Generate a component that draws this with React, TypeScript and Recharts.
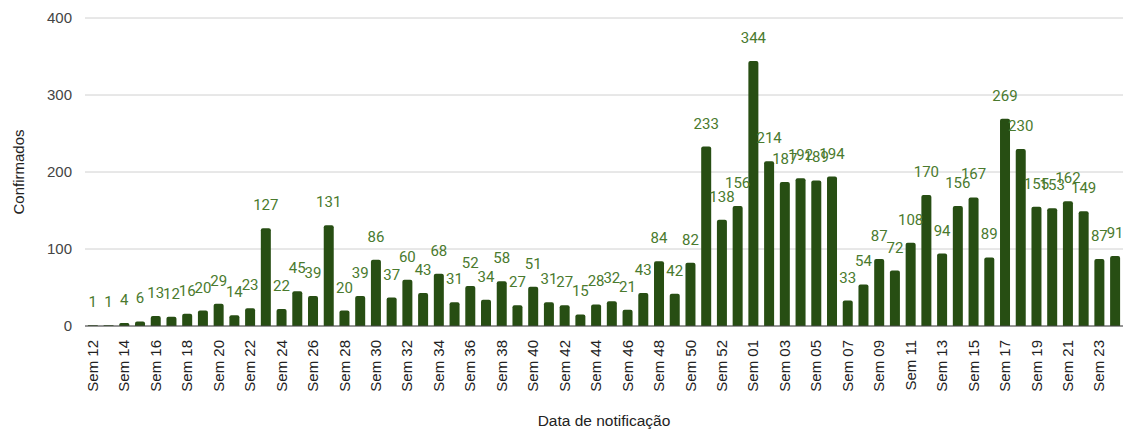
import React from "react";
import { BarChart, Bar, XAxis, YAxis, CartesianGrid, LabelList } from "recharts";

const weeks2020 = [12,13,14,15,16,17,18,19,20,21,22,23,24,25,26,27,28,29,30,31,32,33,34,35,36,37,38,39,40,41,42,43,44,45,46,47,48,49,50,51,52,53];
const weeks2021 = [1,2,3,4,5,6,7,8,9,10,11,12,13,14,15,16,17,18,19,20,21,22,23,24];
const categories = [...weeks2020, ...weeks2021].map((w) => "Sem " + String(w).padStart(2, "0"));
const confirmados = [
  1,1,4,6,13,12,16,20,29,14,23,127,22,45,39,131,20,39,86,37,60,43,68,31,52,34,58,27,51,31,27,15,28,32,21,43,84,42,82,233,138,156,
  344,214,187,192,189,194,33,54,87,72,108,170,94,156,167,89,269,230,155,153,162,149,87,91,
];
const yTicks = [0, 100, 200, 300, 400];

const data = categories.map((c, i) => ({ name: c, value: confirmados[i] }));

const AX_FONT = "Liberation Sans, Arial, sans-serif";

const XTick = (props: any) => {
  const { x, y, payload } = props;
  return (
    <text
      x={x}
      y={y}
      transform={`rotate(-90, ${x}, ${y})`}
      dx={-6}
      dy={5}
      textAnchor="end"
      fontSize={15}
      fontFamily={AX_FONT}
      fill="#222"
    >
      {payload.value}
    </text>
  );
};

const YTitle = (props: any) => {
  const vb = props.viewBox || {};
  const cx = 18;
  const cy = (vb.y ?? 18) + (vb.height ?? 308) / 2;
  return (
    <text
      x={cx}
      y={cy}
      transform={`rotate(-90, ${cx}, ${cy})`}
      textAnchor="middle"
      dominantBaseline="central"
      fontSize={15}
      fontFamily={AX_FONT}
      fill="#222"
    >
      Confirmados
    </text>
  );
};

export default function App() {
  return (
    <div style={{ position: "absolute", left: 0, top: 0, width: 1126, height: 430, background: "#fff" }}>
      <BarChart
        width={1126}
        height={430}
        data={data}
        margin={{ top: 18, right: 3, left: 0, bottom: 0 }}
        barCategoryGap="18%"
      >
        <CartesianGrid vertical={false} stroke="#d0d0d0" />
        <XAxis
          dataKey="name"
          interval={1}
          tick={<XTick />}
          tickLine={false}
          axisLine={{ stroke: "#444" }}
          height={104}
          label={{
            value: "Data de notificação",
            position: "insideBottom",
            offset: 4,
            style: { fontSize: 15.5, fontFamily: AX_FONT, fill: "#222" },
          }}
        />
        <YAxis
          domain={[0, 400]}
          ticks={yTicks}
          width={85}
          tickLine={false}
          axisLine={false}
          tick={{ fontSize: 15, fill: "#444", fontFamily: AX_FONT }}
          tickMargin={7}
          label={<YTitle />}
        />
        <Bar dataKey="value" fill="#274e13" radius={[2, 2, 0, 0]} isAnimationActive={false}>
          <LabelList
            dataKey="value"
            position="top"
            offset={18}
            fill="#4a7a2e"
            fontSize={15}
            fontFamily="Roboto, sans-serif"
          />
        </Bar>
      </BarChart>
    </div>
  );
}
